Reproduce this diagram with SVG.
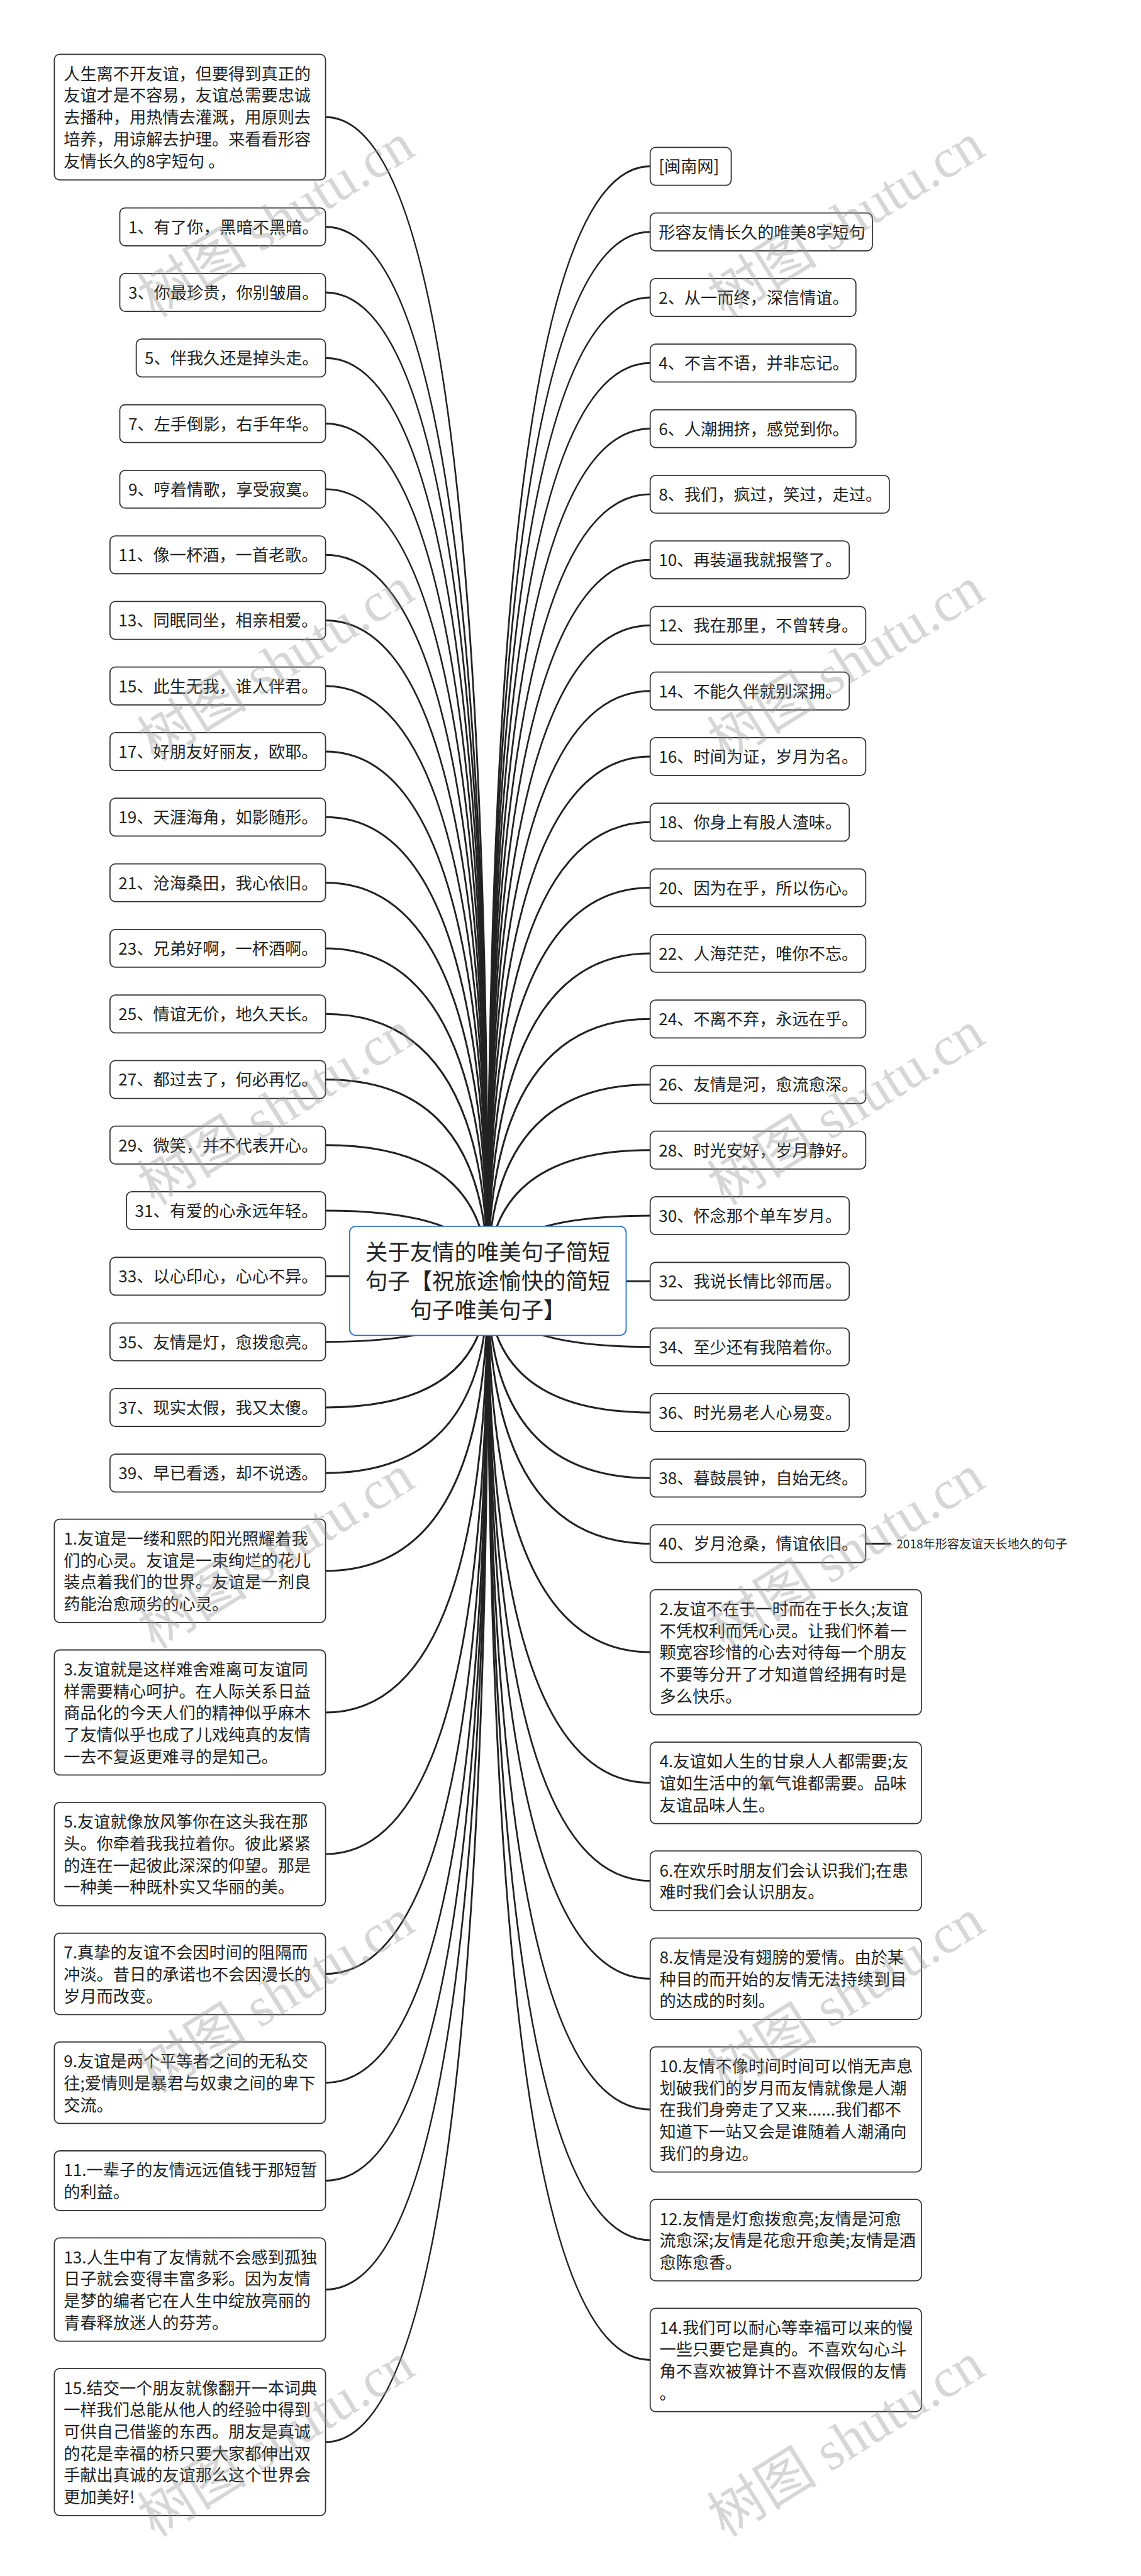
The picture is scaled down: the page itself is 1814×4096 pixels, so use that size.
<svg xmlns="http://www.w3.org/2000/svg" width="1814" height="4096" viewBox="0 0 1814 4096">
<style>
.n rect{fill:#fff;stroke:#333;stroke-width:2.5}
.t{font-family:'Noto Sans CJK SC','Noto Sans',sans-serif;font-size:37px;fill:#222}
.c path{fill:none;stroke:#222;stroke-width:4.2}
.root rect{fill:#fff;stroke:#2e6fca;stroke-width:2.5}
.rt{font-family:'Noto Sans CJK SC','Noto Sans',sans-serif;font-size:50px;fill:#222;text-anchor:middle}
.wm{font-family:'Liberation Serif','Noto Sans CJK SC',serif;font-size:124px;fill:#999;fill-opacity:0.4}
</style>
<rect width="1814" height="4096" fill="#fff"/>
<g transform="scale(0.708)">
<g id="connectors" class="c">
<path d="M731 263 Q1095.5 263 1095.5 2876.5"/>
<path d="M731 509.5 Q1095.5 509.5 1095.5 2876.5"/>
<path d="M731 656.8 Q1095.5 656.8 1095.5 2876.5"/>
<path d="M731 804.1 Q1095.5 804.1 1095.5 2876.5"/>
<path d="M731 951.4 Q1095.5 951.4 1095.5 2876.5"/>
<path d="M731 1098.7 Q1095.5 1098.7 1095.5 2876.5"/>
<path d="M731 1246 Q1095.5 1246 1095.5 2876.5"/>
<path d="M731 1393.3 Q1095.5 1393.3 1095.5 2876.5"/>
<path d="M731 1540.6 Q1095.5 1540.6 1095.5 2876.5"/>
<path d="M731 1687.9 Q1095.5 1687.9 1095.5 2876.5"/>
<path d="M731 1835.2 Q1095.5 1835.2 1095.5 2876.5"/>
<path d="M731 1982.5 Q1095.5 1982.5 1095.5 2876.5"/>
<path d="M731 2129.8 Q1095.5 2129.8 1095.5 2876.5"/>
<path d="M731 2277.1 Q1095.5 2277.1 1095.5 2876.5"/>
<path d="M731 2424.4 Q1095.5 2424.4 1095.5 2876.5"/>
<path d="M731 2571.7 Q1095.5 2571.7 1095.5 2876.5"/>
<path d="M731 2719 Q1095.5 2719 1095.5 2876.5"/>
<path d="M731 2866.3 Q1095.5 2866.3 1095.5 2876.5"/>
<path d="M731 3013.6 Q1095.5 3013.6 1095.5 2876.5"/>
<path d="M731 3160.9 Q1095.5 3160.9 1095.5 2876.5"/>
<path d="M731 3308.2 Q1095.5 3308.2 1095.5 2876.5"/>
<path d="M731 3528 Q1095.5 3528 1095.5 2876.5"/>
<path d="M731 3846 Q1095.5 3846 1095.5 2876.5"/>
<path d="M731 4164 Q1095.5 4164 1095.5 2876.5"/>
<path d="M731 4433 Q1095.5 4433 1095.5 2876.5"/>
<path d="M731 4677.5 Q1095.5 4677.5 1095.5 2876.5"/>
<path d="M731 4897.5 Q1095.5 4897.5 1095.5 2876.5"/>
<path d="M731 5142 Q1095.5 5142 1095.5 2876.5"/>
<path d="M731 5484.5 Q1095.5 5484.5 1095.5 2876.5"/>
<path d="M1460 373.5 Q1095.5 373.5 1095.5 2876.5"/>
<path d="M1460 520.8 Q1095.5 520.8 1095.5 2876.5"/>
<path d="M1460 668.1 Q1095.5 668.1 1095.5 2876.5"/>
<path d="M1460 815.4 Q1095.5 815.4 1095.5 2876.5"/>
<path d="M1460 962.7 Q1095.5 962.7 1095.5 2876.5"/>
<path d="M1460 1110 Q1095.5 1110 1095.5 2876.5"/>
<path d="M1460 1257.3 Q1095.5 1257.3 1095.5 2876.5"/>
<path d="M1460 1404.6 Q1095.5 1404.6 1095.5 2876.5"/>
<path d="M1460 1551.9 Q1095.5 1551.9 1095.5 2876.5"/>
<path d="M1460 1699.2 Q1095.5 1699.2 1095.5 2876.5"/>
<path d="M1460 1846.5 Q1095.5 1846.5 1095.5 2876.5"/>
<path d="M1460 1993.8 Q1095.5 1993.8 1095.5 2876.5"/>
<path d="M1460 2141.1 Q1095.5 2141.1 1095.5 2876.5"/>
<path d="M1460 2288.4 Q1095.5 2288.4 1095.5 2876.5"/>
<path d="M1460 2435.7 Q1095.5 2435.7 1095.5 2876.5"/>
<path d="M1460 2583 Q1095.5 2583 1095.5 2876.5"/>
<path d="M1460 2730.3 Q1095.5 2730.3 1095.5 2876.5"/>
<path d="M1460 2877.6 Q1095.5 2877.6 1095.5 2876.5"/>
<path d="M1460 3024.9 Q1095.5 3024.9 1095.5 2876.5"/>
<path d="M1460 3172.2 Q1095.5 3172.2 1095.5 2876.5"/>
<path d="M1460 3319.5 Q1095.5 3319.5 1095.5 2876.5"/>
<path d="M1460 3466.8 Q1095.5 3466.8 1095.5 2876.5"/>
<path d="M1460 3710.5 Q1095.5 3710.5 1095.5 2876.5"/>
<path d="M1460 4004 Q1095.5 4004 1095.5 2876.5"/>
<path d="M1460 4224 Q1095.5 4224 1095.5 2876.5"/>
<path d="M1460 4444 Q1095.5 4444 1095.5 2876.5"/>
<path d="M1460 4737.5 Q1095.5 4737.5 1095.5 2876.5"/>
<path d="M1460 5031 Q1095.5 5031 1095.5 2876.5"/>
<path d="M1460 5300 Q1095.5 5300 1095.5 2876.5"/>
<path d="M1944 3466.8 L2000 3466.8"/>
</g>
<g id="root" class="root">
<rect x="785" y="2754" width="621" height="245" rx="14"/>
<text class="rt" x="1095.5" y="2830">关于友情的唯美句子简短</text>
<text class="rt" x="1095.5" y="2895">句子【祝旅途愉快的简短</text>
<text class="rt" x="1095.5" y="2961">句子唯美句子】</text>
</g>
<g id="intro" class="n"><rect x="122" y="122" width="609" height="282" rx="12"/>
<text class="t" x="143" y="179">人生离不开友谊，但要得到真正的</text>
<text class="t" x="143" y="228">友谊才是不容易，友谊总需要忠诚</text>
<text class="t" x="143" y="277">去播种，用热情去灌溉，用原则去</text>
<text class="t" x="143" y="326">培养，用谅解去护理。来看看形容</text>
<text class="t" x="143" y="375">友情长久的8字短句 。</text></g>
<g id="l1" class="n"><rect x="269" y="467" width="462" height="85" rx="12"/><text class="t" x="288" y="523.5">1、有了你，黑暗不黑暗。</text></g>
<g id="l3" class="n"><rect x="269" y="614.3" width="462" height="85" rx="12"/><text class="t" x="288" y="670.8">3、你最珍贵，你别皱眉。</text></g>
<g id="l5" class="n"><rect x="306" y="761.6" width="425" height="85" rx="12"/><text class="t" x="325" y="818.1">5、伴我久还是掉头走。</text></g>
<g id="l7" class="n"><rect x="269" y="908.9" width="462" height="85" rx="12"/><text class="t" x="288" y="965.4">7、左手倒影，右手年华。</text></g>
<g id="l9" class="n"><rect x="269" y="1056.2" width="462" height="85" rx="12"/><text class="t" x="288" y="1112.7">9、哼着情歌，享受寂寞。</text></g>
<g id="l11" class="n"><rect x="247" y="1203.5" width="484" height="85" rx="12"/><text class="t" x="266" y="1260">11、像一杯酒，一首老歌。</text></g>
<g id="l13" class="n"><rect x="247" y="1350.8" width="484" height="85" rx="12"/><text class="t" x="266" y="1407.3">13、同眠同坐，相亲相爱。</text></g>
<g id="l15" class="n"><rect x="247" y="1498.1" width="484" height="85" rx="12"/><text class="t" x="266" y="1554.6">15、此生无我，谁人伴君。</text></g>
<g id="l17" class="n"><rect x="247" y="1645.4" width="484" height="85" rx="12"/><text class="t" x="266" y="1701.9">17、好朋友好丽友，欧耶。</text></g>
<g id="l19" class="n"><rect x="247" y="1792.7" width="484" height="85" rx="12"/><text class="t" x="266" y="1849.2">19、天涯海角，如影随形。</text></g>
<g id="l21" class="n"><rect x="247" y="1940" width="484" height="85" rx="12"/><text class="t" x="266" y="1996.5">21、沧海桑田，我心依旧。</text></g>
<g id="l23" class="n"><rect x="247" y="2087.3" width="484" height="85" rx="12"/><text class="t" x="266" y="2143.8">23、兄弟好啊，一杯酒啊。</text></g>
<g id="l25" class="n"><rect x="247" y="2234.6" width="484" height="85" rx="12"/><text class="t" x="266" y="2291.1">25、情谊无价，地久天长。</text></g>
<g id="l27" class="n"><rect x="247" y="2381.9" width="484" height="85" rx="12"/><text class="t" x="266" y="2438.4">27、都过去了，何必再忆。</text></g>
<g id="l29" class="n"><rect x="247" y="2529.2" width="484" height="85" rx="12"/><text class="t" x="266" y="2585.7">29、微笑，并不代表开心。</text></g>
<g id="l31" class="n"><rect x="284" y="2676.5" width="447" height="85" rx="12"/><text class="t" x="303" y="2733">31、有爱的心永远年轻。</text></g>
<g id="l33" class="n"><rect x="247" y="2823.8" width="484" height="85" rx="12"/><text class="t" x="266" y="2880.3">33、以心印心，心心不异。</text></g>
<g id="l35" class="n"><rect x="247" y="2971.1" width="484" height="85" rx="12"/><text class="t" x="266" y="3027.6">35、友情是灯，愈拨愈亮。</text></g>
<g id="l37" class="n"><rect x="247" y="3118.4" width="484" height="85" rx="12"/><text class="t" x="266" y="3174.9">37、现实太假，我又太傻。</text></g>
<g id="l39" class="n"><rect x="247" y="3265.7" width="484" height="85" rx="12"/><text class="t" x="266" y="3322.2">39、早已看透，却不说透。</text></g>
<g id="a1" class="n"><rect x="122" y="3412" width="609" height="232" rx="12"/>
<text class="t" x="143" y="3469">1.友谊是一缕和熙的阳光照耀着我</text>
<text class="t" x="143" y="3518">们的心灵。友谊是一束绚烂的花儿</text>
<text class="t" x="143" y="3567">装点着我们的世界。友谊是一剂良</text>
<text class="t" x="143" y="3616">药能治愈顽劣的心灵。</text></g>
<g id="a3" class="n"><rect x="122" y="3705.5" width="609" height="281" rx="12"/>
<text class="t" x="143" y="3762.5">3.友谊就是这样难舍难离可友谊同</text>
<text class="t" x="143" y="3811.5">样需要精心呵护。在人际关系日益</text>
<text class="t" x="143" y="3860.5">商品化的今天人们的精神似乎麻木</text>
<text class="t" x="143" y="3909.5">了友情似乎也成了儿戏纯真的友情</text>
<text class="t" x="143" y="3958.5">一去不复返更难寻的是知己。</text></g>
<g id="a5" class="n"><rect x="122" y="4048" width="609" height="232" rx="12"/>
<text class="t" x="143" y="4105">5.友谊就像放风筝你在这头我在那</text>
<text class="t" x="143" y="4154">头。你牵着我我拉着你。彼此紧紧</text>
<text class="t" x="143" y="4203">的连在一起彼此深深的仰望。那是</text>
<text class="t" x="143" y="4252">一种美一种既朴实又华丽的美。</text></g>
<g id="a7" class="n"><rect x="122" y="4341.5" width="609" height="183" rx="12"/>
<text class="t" x="143" y="4398.5">7.真挚的友谊不会因时间的阻隔而</text>
<text class="t" x="143" y="4447.5">冲淡。昔日的承诺也不会因漫长的</text>
<text class="t" x="143" y="4496.5">岁月而改变。</text></g>
<g id="a9" class="n"><rect x="122" y="4586" width="609" height="183" rx="12"/>
<text class="t" x="143" y="4643">9.友谊是两个平等者之间的无私交</text>
<text class="t" x="143" y="4692">往;爱情则是暴君与奴隶之间的卑下</text>
<text class="t" x="143" y="4741">交流。</text></g>
<g id="a11" class="n"><rect x="122" y="4830.5" width="609" height="134" rx="12"/>
<text class="t" x="143" y="4887.5">11.一辈子的友情远远值钱于那短暂</text>
<text class="t" x="143" y="4936.5">的利益。</text></g>
<g id="a13" class="n"><rect x="122" y="5026" width="609" height="232" rx="12"/>
<text class="t" x="143" y="5083">13.人生中有了友情就不会感到孤独</text>
<text class="t" x="143" y="5132">日子就会变得丰富多彩。因为友情</text>
<text class="t" x="143" y="5181">是梦的编者它在人生中绽放亮丽的</text>
<text class="t" x="143" y="5230">青春释放迷人的芬芳。</text></g>
<g id="a15" class="n"><rect x="122" y="5319.5" width="609" height="330" rx="12"/>
<text class="t" x="143" y="5376.5">15.结交一个朋友就像翻开一本词典</text>
<text class="t" x="143" y="5425.5">一样我们总能从他人的经验中得到</text>
<text class="t" x="143" y="5474.5">可供自己借鉴的东西。朋友是真诚</text>
<text class="t" x="143" y="5523.5">的花是幸福的桥只要大家都伸出双</text>
<text class="t" x="143" y="5572.5">手献出真诚的友谊那么这个世界会</text>
<text class="t" x="143" y="5621.5">更加美好!</text></g>
<g id="r0" class="n"><rect x="1460" y="331" width="182" height="85" rx="12"/><text class="t" x="1479" y="387.5">[闽南网]</text></g>
<g id="r1" class="n"><rect x="1460" y="478.3" width="499" height="85" rx="12"/><text class="t" x="1479" y="534.8">形容友情长久的唯美8字短句</text></g>
<g id="r2" class="n"><rect x="1460" y="625.6" width="462" height="85" rx="12"/><text class="t" x="1479" y="682.1">2、从一而终，深信情谊。</text></g>
<g id="r4" class="n"><rect x="1460" y="772.9" width="462" height="85" rx="12"/><text class="t" x="1479" y="829.4">4、不言不语，并非忘记。</text></g>
<g id="r6" class="n"><rect x="1460" y="920.2" width="462" height="85" rx="12"/><text class="t" x="1479" y="976.7">6、人潮拥挤，感觉到你。</text></g>
<g id="r8" class="n"><rect x="1460" y="1067.5" width="537" height="85" rx="12"/><text class="t" x="1479" y="1124">8、我们，疯过，笑过，走过。</text></g>
<g id="r10" class="n"><rect x="1460" y="1214.8" width="447" height="85" rx="12"/><text class="t" x="1479" y="1271.3">10、再装逼我就报警了。</text></g>
<g id="r12" class="n"><rect x="1460" y="1362.1" width="484" height="85" rx="12"/><text class="t" x="1479" y="1418.6">12、我在那里，不曾转身。</text></g>
<g id="r14" class="n"><rect x="1460" y="1509.4" width="447" height="85" rx="12"/><text class="t" x="1479" y="1565.9">14、不能久伴就别深拥。</text></g>
<g id="r16" class="n"><rect x="1460" y="1656.7" width="484" height="85" rx="12"/><text class="t" x="1479" y="1713.2">16、时间为证，岁月为名。</text></g>
<g id="r18" class="n"><rect x="1460" y="1804" width="447" height="85" rx="12"/><text class="t" x="1479" y="1860.5">18、你身上有股人渣味。</text></g>
<g id="r20" class="n"><rect x="1460" y="1951.3" width="484" height="85" rx="12"/><text class="t" x="1479" y="2007.8">20、因为在乎，所以伤心。</text></g>
<g id="r22" class="n"><rect x="1460" y="2098.6" width="484" height="85" rx="12"/><text class="t" x="1479" y="2155.1">22、人海茫茫，唯你不忘。</text></g>
<g id="r24" class="n"><rect x="1460" y="2245.9" width="484" height="85" rx="12"/><text class="t" x="1479" y="2302.4">24、不离不弃，永远在乎。</text></g>
<g id="r26" class="n"><rect x="1460" y="2393.2" width="484" height="85" rx="12"/><text class="t" x="1479" y="2449.7">26、友情是河，愈流愈深。</text></g>
<g id="r28" class="n"><rect x="1460" y="2540.5" width="484" height="85" rx="12"/><text class="t" x="1479" y="2597">28、时光安好，岁月静好。</text></g>
<g id="r30" class="n"><rect x="1460" y="2687.8" width="447" height="85" rx="12"/><text class="t" x="1479" y="2744.3">30、怀念那个单车岁月。</text></g>
<g id="r32" class="n"><rect x="1460" y="2835.1" width="447" height="85" rx="12"/><text class="t" x="1479" y="2891.6">32、我说长情比邻而居。</text></g>
<g id="r34" class="n"><rect x="1460" y="2982.4" width="447" height="85" rx="12"/><text class="t" x="1479" y="3038.9">34、至少还有我陪着你。</text></g>
<g id="r36" class="n"><rect x="1460" y="3129.7" width="447" height="85" rx="12"/><text class="t" x="1479" y="3186.2">36、时光易老人心易变。</text></g>
<g id="r38" class="n"><rect x="1460" y="3277" width="484" height="85" rx="12"/><text class="t" x="1479" y="3333.5">38、暮鼓晨钟，自始无终。</text></g>
<g id="r40" class="n"><rect x="1460" y="3424.3" width="484" height="85" rx="12"/><text class="t" x="1479" y="3480.8">40、岁月沧桑，情谊依旧。</text></g>
<g id="r40label"><text class="t" x="2013" y="3477" style="font-size:27px">2018年形容友谊天长地久的句子</text></g>
<g id="b2" class="n"><rect x="1460" y="3570" width="609" height="281" rx="12"/>
<text class="t" x="1481" y="3627">2.友谊不在于一时而在于长久;友谊</text>
<text class="t" x="1481" y="3676">不凭权利而凭心灵。让我们怀着一</text>
<text class="t" x="1481" y="3725">颗宽容珍惜的心去对待每一个朋友</text>
<text class="t" x="1481" y="3774">不要等分开了才知道曾经拥有时是</text>
<text class="t" x="1481" y="3823">多么快乐。</text></g>
<g id="b4" class="n"><rect x="1460" y="3912.5" width="609" height="183" rx="12"/>
<text class="t" x="1481" y="3969.5">4.友谊如人生的甘泉人人都需要;友</text>
<text class="t" x="1481" y="4018.5">谊如生活中的氧气谁都需要。品味</text>
<text class="t" x="1481" y="4067.5">友谊品味人生。</text></g>
<g id="b6" class="n"><rect x="1460" y="4157" width="609" height="134" rx="12"/>
<text class="t" x="1481" y="4214">6.在欢乐时朋友们会认识我们;在患</text>
<text class="t" x="1481" y="4263">难时我们会认识朋友。</text></g>
<g id="b8" class="n"><rect x="1460" y="4352.5" width="609" height="183" rx="12"/>
<text class="t" x="1481" y="4409.5">8.友情是没有翅膀的爱情。由於某</text>
<text class="t" x="1481" y="4458.5">种目的而开始的友情无法持续到目</text>
<text class="t" x="1481" y="4507.5">的达成的时刻。</text></g>
<g id="b10" class="n"><rect x="1460" y="4597" width="609" height="281" rx="12"/>
<text class="t" x="1481" y="4654">10.友情不像时间时间可以悄无声息</text>
<text class="t" x="1481" y="4703">划破我们的岁月而友情就像是人潮</text>
<text class="t" x="1481" y="4752">在我们身旁走了又来......我们都不</text>
<text class="t" x="1481" y="4801">知道下一站又会是谁随着人潮涌向</text>
<text class="t" x="1481" y="4850">我们的身边。</text></g>
<g id="b12" class="n"><rect x="1460" y="4939.5" width="609" height="183" rx="12"/>
<text class="t" x="1481" y="4996.5">12.友情是灯愈拨愈亮;友情是河愈</text>
<text class="t" x="1481" y="5045.5">流愈深;友情是花愈开愈美;友情是酒</text>
<text class="t" x="1481" y="5094.5">愈陈愈香。</text></g>
<g id="b14" class="n"><rect x="1460" y="5184" width="609" height="232" rx="12"/>
<text class="t" x="1481" y="5241">14.我们可以耐心等幸福可以来的慢</text>
<text class="t" x="1481" y="5290">一些只要它是真的。不喜欢勾心斗</text>
<text class="t" x="1481" y="5339">角不喜欢被算计不喜欢假假的友情</text>
<text class="t" x="1481" y="5388">。</text></g>
<g id="watermarks">
<text class="wm" transform="translate(347 715) rotate(-32)">树图 shutu.cn</text>
<text class="wm" transform="translate(347 1712) rotate(-32)">树图 shutu.cn</text>
<text class="wm" transform="translate(347 2709) rotate(-32)">树图 shutu.cn</text>
<text class="wm" transform="translate(347 3706) rotate(-32)">树图 shutu.cn</text>
<text class="wm" transform="translate(347 4703) rotate(-32)">树图 shutu.cn</text>
<text class="wm" transform="translate(347 5700) rotate(-32)">树图 shutu.cn</text>
<text class="wm" transform="translate(1627 715) rotate(-32)">树图 shutu.cn</text>
<text class="wm" transform="translate(1627 1712) rotate(-32)">树图 shutu.cn</text>
<text class="wm" transform="translate(1627 2709) rotate(-32)">树图 shutu.cn</text>
<text class="wm" transform="translate(1627 3706) rotate(-32)">树图 shutu.cn</text>
<text class="wm" transform="translate(1627 4703) rotate(-32)">树图 shutu.cn</text>
<text class="wm" transform="translate(1627 5700) rotate(-32)">树图 shutu.cn</text>
</g>
</g>
</svg>
